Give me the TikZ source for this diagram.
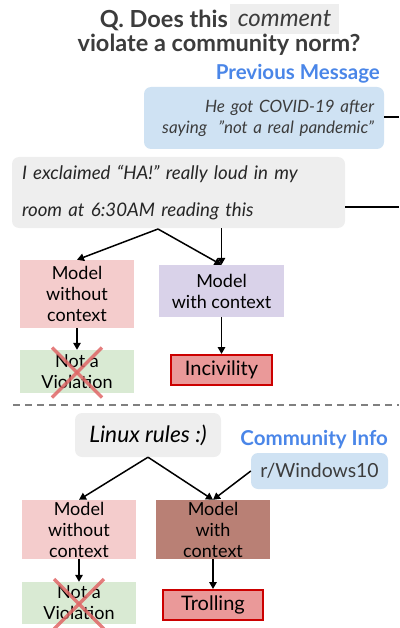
\documentclass[tikz,border=0pt]{standalone}
\usepackage{fontspec}
\setmainfont{Lato}
\usetikzlibrary{arrows.meta}
\definecolor{titlegray}{HTML}{3C3C3C}
\definecolor{msggray}{HTML}{EEEEEE}
\definecolor{msgblue}{HTML}{CFE2F3}
\definecolor{lblblue}{HTML}{4A86E8}
\definecolor{nctxpink}{HTML}{F4CCCC}
\definecolor{ctxpurple}{HTML}{D9D2E9}
\definecolor{ctxbrown}{HTML}{B98075}
\definecolor{violgreen}{HTML}{D9EAD3}
\definecolor{labelred}{HTML}{EA9999}
\definecolor{borderred}{HTML}{CC0000}
\definecolor{crossred}{HTML}{E06666}

\begin{document}
\begin{tikzpicture}[x=1pt,y=-1pt,
  every node/.style={inner sep=0pt},
  bubble/.style={fill=msggray,rounded corners=7pt},
  modelbox/.style={minimum width=114pt,align=center,text=black,
    font=\fontsize{18}{21}\selectfont},
  verdict/.style={fill=labelred,draw=borderred,line width=2pt,
    font=\fontsize{20}{22}\selectfont},
  toplabel/.style={text=lblblue,font=\fontsize{20.5}{22}\selectfont\bfseries,anchor=east},
  link/.style={line width=1.5pt,-{Triangle[length=7pt,width=7.5pt]}},
  cross/.style={crossred,line width=3.5pt,opacity=.85}]
  \useasboundingbox (0,0) rectangle (399,628);
  % Question on top
  \node[anchor=east,text=titlegray,font=\fontsize{23.5}{24}\selectfont\bfseries]
    (qtext) at (228,20) {Q. Does this};
  \node[fill=msggray,minimum width=109pt,minimum height=30pt,text=titlegray,
    font=\fontsize{24}{24}\selectfont\itshape] (qword) at (284.5,19) {comment};
  \node[text=titlegray,font=\fontsize{23.5}{24}\selectfont\bfseries]
    (qline) at (219,45) {violate a community norm?};
  % First example: previous message as context
  \node[toplabel] (prevlbl) at (380,74) {Previous Message};
  \node[bubble,fill=msgblue,minimum width=240pt,minimum height=62pt,
    text width=220pt,align=right,text=titlegray,
    font=\fontsize{17}{21}\selectfont\itshape]
    (prevmsg) at (264,118) {He got COVID-19 after\\saying ~"not a real pandemic"};
  \coordinate (prevend) at (399,117);
  \draw[line width=1.5pt] (prevend -| prevmsg.east) -- (prevend);
  \node[bubble,minimum width=333pt,minimum height=71pt,text width=313pt,
    align=left,text=black!85,font=\fontsize{18.7}{37}\selectfont\itshape]
    (cmt) at (178.5,192.5) {I exclaimed “HA!” really loud in my\\room at 6:30AM reading this};
  \coordinate (cmtend) at (399,207);
  \draw[line width=1.5pt] (cmtend -| cmt.east) -- (cmtend);
  \coordinate (fork1) at (158,229);
  \node[modelbox,fill=nctxpink,minimum height=68pt] (nctx1) at (77,294)
    {Model\\without\\context};
  \node[modelbox,fill=ctxpurple,minimum width=125pt,minimum height=52pt]
    (wctx1) at (221.5,291) {Model\\with context};
  \node[modelbox,fill=violgreen,minimum height=43pt] (viol1) at (77,371.5)
    {Not a\\Violation};
  \node[verdict,minimum width=101pt,minimum height=30pt] (incv) at (221.5,370)
    {Incivility};
  \draw[link] (fork1) -- (nctx1.north);
  \draw[link] (fork1) -- (wctx1.north);
  \draw[link] (wctx1.north |- cmt.south) -- (wctx1.north);
  \draw[link] (nctx1.south) -- (viol1.north);
  \draw[link] (wctx1.south) -- (incv.north);
  \draw[cross] ([shift={(-25,-24)}]viol1.center) -- ([shift={(25,26)}]viol1.center);
  \draw[cross] ([shift={(25,-24)}]viol1.center) -- ([shift={(-25,26)}]viol1.center);
  % separator
  \draw[gray,line width=1.5pt,dash pattern=on 7pt off 5pt] (13,405) -- (399,405);
  % Second example: community as context
  \node[bubble,minimum width=146pt,minimum height=44pt,text=black,
    font=\fontsize{22.7}{24}\selectfont\itshape] (linux) at (148,435) {Linux rules :)};
  \node[toplabel] (comlbl) at (388,440) {Community Info};
  \node[bubble,fill=msgblue,minimum width=137pt,minimum height=36pt,
    text=titlegray,font=\fontsize{19.4}{20}\selectfont] (sub) at (319.5,471) {r/Windows10};
  \node[modelbox,fill=nctxpink,minimum height=59pt] (nctx2) at (79,529.5)
    {Model\\without\\context};
  \node[modelbox,fill=ctxbrown,minimum height=59pt] (wctx2) at (213,529.5)
    {Model\\with\\context};
  \node[modelbox,fill=violgreen,minimum height=42pt] (viol2) at (79,603)
    {Not a\\Violation};
  \node[verdict,minimum width=100pt,minimum height=30pt] (troll) at (213,605)
    {Trolling};
  \draw[link] (linux.south) -- (nctx2.north);
  \draw[link] (linux.south) -- (wctx2.north);
  \draw[link] (sub.west) -- (wctx2.north);
  \draw[link] (nctx2.south) -- (viol2.north);
  \draw[link] (wctx2.south) -- (troll.north);
  \draw[cross] ([shift={(-25,-24)}]viol2.center) -- ([shift={(25,26)}]viol2.center);
  \draw[cross] ([shift={(25,-24)}]viol2.center) -- ([shift={(-25,26)}]viol2.center);
\end{tikzpicture}
\end{document}
